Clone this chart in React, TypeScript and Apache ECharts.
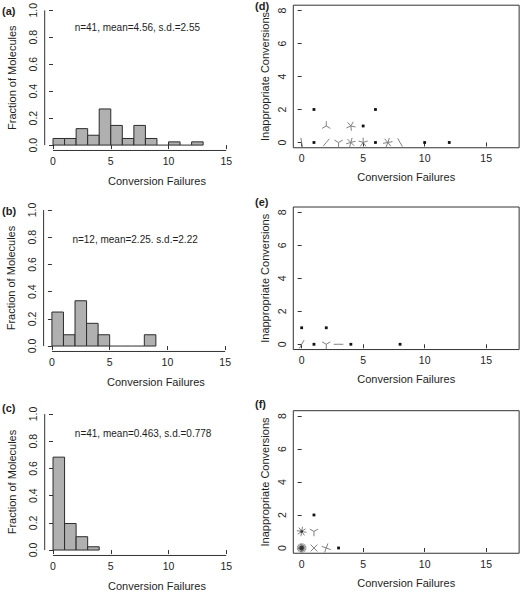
import React, { useEffect, useRef } from "react";
import * as echarts from "echarts";

// ---- data ----
const fractionA = [0.049, 0.049, 0.122, 0.073, 0.268, 0.146, 0.049, 0.146, 0.049, 0, 0.024, 0, 0.024];
const fractionB = [0.25, 0.083, 0.333, 0.167, 0.083, 0, 0, 0, 0.083];
const fractionC = [0.683, 0.195, 0.098, 0.024];
const statsLabels = [
  "n=41, mean=4.56, s.d.=2.55",
  "n=12, mean=2.25. s.d.=2.22",
  "n=41, mean=0.463, s.d.=0.778",
];
const panelLetters = ["(a)", "(b)", "(c)", "(d)", "(e)", "(f)"];
const histXTicks = [0, 5, 10, 15];
const histYTicks = [0, 0.2, 0.4, 0.6, 0.8, 1.0];
const scatterXTicks = [0, 5, 10, 15];
const scatterYTicks = [0, 2, 4, 6, 8];
const xTitle = "Conversion Failures";
const histYTitle = "Fraction of Molecules";
const scatterYTitle = "Inappropriate Conversions";

// sunflower points: [conversion failures, inappropriate conversions, count]
const flowersD = [
  [0, 0, 2], [1, 0, 1], [1, 2, 1], [2, 0, 2], [2, 1, 3], [3, 0, 3], [4, 0, 6], [4, 1, 5],
  [5, 0, 5], [5, 1, 1], [6, 0, 1], [6, 2, 1], [7, 0, 6], [8, 0, 2], [10, 0, 1], [12, 0, 1],
];
const flowersE = [
  [0, 0, 2], [0, 1, 1], [1, 0, 1], [2, 0, 3], [2, 1, 1], [3, 0, 2], [4, 0, 1], [8, 0, 1],
];
const flowersF = [
  [0, 0, 20], [0, 1, 8], [1, 0, 4], [1, 1, 3], [1, 2, 1], [2, 0, 4], [3, 0, 1],
];
// petal rotation (degrees) of each sunflower, as seen in the picture
const turnD = [350, 0, 0, 40, 0, 300, 15, 30, 0, 0, 0, 0, 20, 330, 0, 0];
const turnE = [30, 0, 0, 180, 0, 90, 0, 0];
const turnF = [0, 10, 45, 180, 0, 20, 0];

const FONT = "'Liberation Sans', Arial, Helvetica, sans-serif";
const INK = "#1e1e1e";

export default function App() {
  const ref = useRef<HTMLDivElement>(null);

  useEffect(() => {
    if (!ref.current) return;
    const chart = echarts.init(ref.current, undefined, { renderer: "svg" });

    const histLayouts = [
      { left: 44.7, top: 3.6 },
      { left: 43.6, top: 204.6 },
      { left: 44.7, top: 408.6 },
    ];
    const scatterLayouts = [
      { left: 293.3, top: 5.2 },
      { left: 293.3, top: 207 },
      { left: 293.3, top: 410.7 },
    ];
    const HX = 11.55; // px per unit
    const histMinX = -0.72, histMaxX = 18.72, histMinY = -0.04, histMaxY = 1.04;
    const histW = (histMaxX - histMinX) * HX;
    const histH = (histMaxY - histMinY) * 136;
    const scMinX = -0.68, scMaxX = 17.68, scMinY = -0.32, scMaxY = 8.32;
    const scW = (scMaxX - scMinX) * 12.3;
    const scH = (scMaxY - scMinY) * 16.5;

    const grids: any[] = [];
    const xAxes: any[] = [];
    const yAxes: any[] = [];
    const series: any[] = [];

    const tickLabel = { fontSize: 10.5, color: INK, fontFamily: FONT };
    const nameStyle = { fontSize: 11, color: INK, fontFamily: FONT };

    const hists = [fractionA, fractionB, fractionC];
    hists.forEach((frac, i) => {
      const g = grids.length;
      grids.push({ left: histLayouts[i].left, top: histLayouts[i].top, width: histW, height: histH });
      xAxes.push({
        gridIndex: g, type: "value", min: histMinX, max: histMaxX,
        axisLine: { show: false }, splitLine: { show: false },
        axisTick: { show: true, customValues: histXTicks, length: 4, lineStyle: { color: "#333" } },
        axisLabel: { customValues: histXTicks, margin: 5, ...tickLabel },
        name: xTitle, nameLocation: "middle", nameGap: 25, nameTextStyle: nameStyle,
      });
      yAxes.push({
        gridIndex: g, type: "value", min: histMinY, max: histMaxY,
        axisLine: { show: false }, splitLine: { show: false },
        axisTick: { show: true, customValues: histYTicks, length: 4, lineStyle: { color: "#333" } },
        axisLabel: { customValues: histYTicks, rotate: 90, margin: 6, formatter: (v: number) => v.toFixed(1), ...tickLabel },
        name: histYTitle, nameLocation: "middle", nameGap: 27, nameTextStyle: nameStyle,
      });
      series.push({
        type: "custom", xAxisIndex: g, yAxisIndex: g, clip: false,
        data: frac.map((v, k) => [k, k + 1, v]),
        encode: { x: [0, 1], y: 2 },
        renderItem: (params: any, api: any) => {
          const p0 = api.coord([api.value(0), 0]);
          const p1 = api.coord([api.value(1), api.value(2)]);
          if (api.value(2) === 0) {
            return {
              type: "line",
              shape: { x1: p0[0], y1: p0[1], x2: p1[0], y2: p0[1] },
              style: { stroke: "#2b2b2b", lineWidth: 1 },
            };
          }
          return {
            type: "rect",
            shape: { x: p0[0], y: p1[1], width: p1[0] - p0[0], height: p0[1] - p1[1] },
            style: { fill: "#b0b0b0", stroke: "#2b2b2b", lineWidth: 1 },
          };
        },
      });
      // R-style axis lines (first to last tick)
      series.push({
        type: "custom", xAxisIndex: g, yAxisIndex: g, clip: false, silent: true,
        data: [[0, 0]],
        renderItem: (params: any, api: any) => {
          const xa = api.coord([histXTicks[0], histMinY]);
          const xb = api.coord([histXTicks[histXTicks.length - 1], histMinY]);
          const ya = api.coord([histMinX, histYTicks[0]]);
          const yb = api.coord([histMinX, histYTicks[histYTicks.length - 1]]);
          return {
            type: "group",
            children: [
              { type: "line", shape: { x1: xa[0], y1: xa[1], x2: xb[0], y2: xb[1] }, style: { stroke: "#333", lineWidth: 1 } },
              { type: "line", shape: { x1: ya[0], y1: ya[1], x2: yb[0], y2: yb[1] }, style: { stroke: "#333", lineWidth: 1 } },
            ],
          };
        },
      });
    });

    const annotAnchor = [[7.3, 0.87], [7.2, 0.78], [7.8, 0.86]];
    statsLabels.forEach((txt, i) => {
      series.push({
        type: "custom", xAxisIndex: i, yAxisIndex: i, clip: false, silent: true,
        data: [annotAnchor[i]],
        renderItem: (params: any, api: any) => {
          const p = api.coord([api.value(0), api.value(1)]);
          return {
            type: "text",
            style: { text: txt, x: p[0], y: p[1], align: "center", verticalAlign: "middle", fill: INK, fontSize: 10, fontFamily: FONT },
          };
        },
      });
    });

    const flowers = [flowersD, flowersE, flowersF];
    const turns = [turnD, turnE, turnF];
    flowers.forEach((fl, i) => {
      const g = grids.length;
      grids.push({
        left: scatterLayouts[i].left, top: scatterLayouts[i].top, width: scW, height: scH,
        show: true, borderColor: "#333", borderWidth: 1, backgroundColor: "transparent",
      });
      xAxes.push({
        gridIndex: g, type: "value", min: scMinX, max: scMaxX,
        axisLine: { show: false }, splitLine: { show: false },
        axisTick: { show: true, customValues: scatterXTicks, length: 4, lineStyle: { color: "#333" } },
        axisLabel: { customValues: scatterXTicks, margin: 5, ...tickLabel },
        name: xTitle, nameLocation: "middle", nameGap: 24, nameTextStyle: nameStyle,
      });
      yAxes.push({
        gridIndex: g, type: "value", min: scMinY, max: scMaxY,
        axisLine: { show: false }, splitLine: { show: false },
        axisTick: { show: true, customValues: scatterYTicks, length: 4, lineStyle: { color: "#333" } },
        axisLabel: { customValues: scatterYTicks, rotate: 90, margin: 6, ...tickLabel },
        name: scatterYTitle, nameLocation: "middle", nameGap: 23, nameTextStyle: nameStyle,
      });
      const turn = turns[i];
      series.push({
        type: "custom", xAxisIndex: g, yAxisIndex: g, clip: false,
        data: fl.map((f, k) => [f[0], f[1], f[2], turn[k]]),
        encode: { x: 0, y: 1 },
        renderItem: (params: any, api: any) => {
          const c = api.coord([api.value(0), api.value(1)]);
          const n = api.value(2);
          const t0 = api.value(3);
          if (n === 1) {
            return { type: "rect", shape: { x: c[0] - 1.4, y: c[1] - 1.4, width: 2.8, height: 2.8 }, style: { fill: "#111" } };
          }
          const L = 4.8;
          const children: any[] = [];
          for (let k = 0; k < n; k++) {
            const th = ((t0 + (360 * k) / n) * Math.PI) / 180;
            children.push({
              type: "line",
              shape: { x1: c[0], y1: c[1], x2: c[0] + L * Math.sin(th), y2: c[1] - L * Math.cos(th) },
              style: { stroke: "#808080", lineWidth: 1 },
            });
          }
          if (n >= 8) {
            children.push({
              type: "circle",
              shape: { cx: c[0], cy: c[1], r: n >= 12 ? 2.2 : 1.3 },
              style: { fill: "#333" },
            });
          }
          return { type: "group", children };
        },
      });
    });

    const letterPos = [[2, 11], [2, 211], [2, 408], [255, 6], [255, 202], [255, 404]];
    const graphic = panelLetters.map((l, i) => ({
      type: "text", left: letterPos[i][0], top: letterPos[i][1] - 6,
      style: { text: l, fill: INK, fontSize: 11, fontWeight: "bold", fontFamily: FONT },
    }));

    chart.setOption({
      animation: false,
      backgroundColor: "#ffffff",
      grid: grids,
      xAxis: xAxes,
      yAxis: yAxes,
      series,
      graphic,
    });

    return () => chart.dispose();
  }, []);

  return (
    <div
      ref={ref}
      style={{ position: "absolute", left: 0, top: 0, width: 521, height: 593, background: "#fff" }}
    />
  );
}
